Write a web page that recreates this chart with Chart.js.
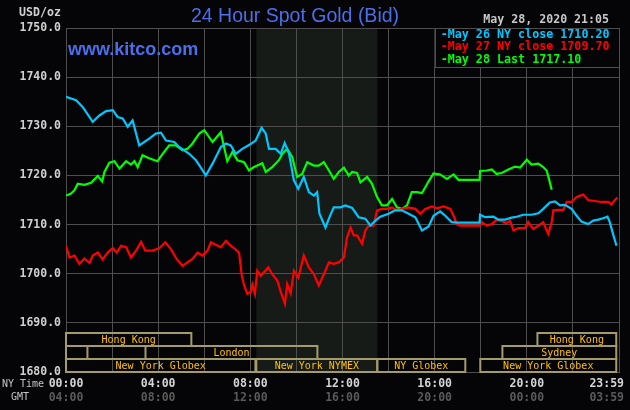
<!DOCTYPE html>
<html>
<head>
<meta charset="utf-8">
<title>24 Hour Spot Gold (Bid)</title>
<script src="https://cdn.jsdelivr.net/npm/chart.js@4.4.0/dist/chart.umd.min.js"></script>
<style>
    html, body { margin: 0; padding: 0; background: #050507; }
    canvas { display: block; }
</style>
</head>
<body>
<canvas id="goldChart" width="630" height="410"></canvas>
<script>
// NY time in hours (0 = 00:00) and bid in USD/oz
const may26Hours = [0, 0.44, 0.73, 1.16, 1.45, 1.74, 2.03, 2.24, 2.46, 2.68, 2.89, 3.18, 3.61, 3.9, 4.12, 4.34, 4.7, 4.91, 5.35, 5.64, 6.07, 6.36, 6.72, 6.94, 7.15, 7.37, 7.65, 7.98, 8.23, 8.49, 8.67, 8.81, 9.1, 9.32, 9.49, 9.68, 9.89, 10.08, 10.32, 10.54, 10.76, 10.9, 11.0, 11.26, 11.41, 11.62, 11.91, 12.13, 12.42, 12.7, 12.99, 13.21, 13.43, 13.64, 14.0, 14.29, 14.58, 14.87, 15.16, 15.45, 15.74, 15.95, 16.24, 16.46, 16.74, 17.0, 17.95, 17.97, 18.19, 18.55, 18.77, 19.06, 19.34, 19.56, 19.85, 20.2, 20.5, 20.71, 21.0, 21.22, 21.44, 21.65, 21.94, 22.16, 22.37, 22.66, 22.88, 23.1, 23.31, 23.5, 23.6, 23.74, 23.89];
const may26Values = [1736.0, 1735.3, 1733.9, 1730.9, 1732.2, 1733.1, 1733.3, 1731.9, 1731.6, 1729.9, 1731.2, 1726.1, 1727.5, 1728.5, 1728.7, 1727.1, 1726.8, 1725.8, 1724.4, 1723.1, 1720.0, 1722.4, 1725.8, 1726.5, 1726.1, 1724.4, 1725.4, 1726.3, 1727.1, 1729.7, 1728.5, 1725.4, 1725.4, 1724.4, 1726.6, 1724.4, 1719.0, 1717.3, 1719.7, 1716.6, 1715.9, 1716.6, 1712.2, 1709.4, 1711.2, 1713.5, 1713.5, 1713.9, 1713.4, 1711.5, 1711.2, 1709.8, 1710.8, 1711.6, 1712.2, 1712.9, 1712.9, 1712.2, 1711.5, 1708.8, 1709.6, 1711.8, 1712.7, 1711.8, 1710.5, 1710.4, 1710.4, 1712.0, 1711.5, 1711.6, 1711.0, 1711.0, 1711.4, 1711.6, 1712.0, 1712.0, 1712.3, 1713.2, 1714.5, 1714.7, 1713.9, 1714.0, 1713.2, 1711.8, 1710.6, 1710.1, 1710.8, 1711.0, 1711.3, 1711.6, 1710.5, 1708.1, 1705.7];

const may27Hours = [0, 0.15, 0.37, 0.58, 0.8, 1.02, 1.16, 1.38, 1.59, 1.81, 2.03, 2.2, 2.39, 2.61, 2.82, 3.04, 3.26, 3.44, 3.76, 4.05, 4.31, 4.55, 4.8, 5.06, 5.27, 5.49, 5.71, 5.92, 6.14, 6.29, 6.5, 6.72, 6.94, 7.15, 7.37, 7.51, 7.63, 7.73, 7.87, 8.02, 8.09, 8.2, 8.3, 8.45, 8.59, 8.78, 8.95, 9.17, 9.32, 9.5, 9.6, 9.75, 9.89, 10.08, 10.32, 10.54, 10.76, 10.97, 11.19, 11.41, 11.62, 11.84, 12.06, 12.2, 12.35, 12.49, 12.63, 12.85, 12.99, 13.14, 13.35, 13.5, 13.71, 13.93, 14.15, 14.36, 14.58, 14.87, 15.16, 15.38, 15.59, 15.88, 16.1, 16.39, 16.68, 16.82, 16.96, 17.11, 17.95, 18.04, 18.26, 18.48, 18.69, 18.91, 19.12, 19.27, 19.42, 19.63, 19.92, 20.06, 20.28, 20.5, 20.71, 20.86, 20.93, 21.08, 21.15, 21.36, 21.58, 21.73, 21.94, 22.16, 22.45, 22.66, 22.95, 23.24, 23.53, 23.67, 23.82, 23.93];
const may27Values = [1705.7, 1703.3, 1703.7, 1702.0, 1703.1, 1702.2, 1703.7, 1704.3, 1702.9, 1704.3, 1705.2, 1704.3, 1705.7, 1705.4, 1703.3, 1704.7, 1706.5, 1704.7, 1704.7, 1705.2, 1706.4, 1705.0, 1703.0, 1701.6, 1702.3, 1703.0, 1704.3, 1703.7, 1704.7, 1706.4, 1705.9, 1705.4, 1706.7, 1705.7, 1704.9, 1704.3, 1699.6, 1697.6, 1695.9, 1696.3, 1697.8, 1695.9, 1700.6, 1699.6, 1700.3, 1701.3, 1699.9, 1698.6, 1696.3, 1693.9, 1697.9, 1696.0, 1700.6, 1699.2, 1703.7, 1701.3, 1699.9, 1697.6, 1699.9, 1702.3, 1702.0, 1702.3, 1703.3, 1707.4, 1709.4, 1707.8, 1707.8, 1706.1, 1708.8, 1709.8, 1709.8, 1712.9, 1713.2, 1713.2, 1713.5, 1712.9, 1713.2, 1713.5, 1713.2, 1712.2, 1713.2, 1713.7, 1713.3, 1713.7, 1713.2, 1711.8, 1710.1, 1709.8, 1709.8, 1710.5, 1709.8, 1710.1, 1711.0, 1710.7, 1710.3, 1710.8, 1708.8, 1709.3, 1709.3, 1710.5, 1709.1, 1709.8, 1710.5, 1708.8, 1708.1, 1710.5, 1712.9, 1713.0, 1713.0, 1714.6, 1714.6, 1715.6, 1716.1, 1715.0, 1714.8, 1714.6, 1714.6, 1714.1, 1715.0, 1715.5];

const may28Hours = [0, 0.22, 0.37, 0.51, 0.8, 1.09, 1.38, 1.57, 1.67, 1.88, 2.1, 2.32, 2.61, 2.82, 2.97, 3.11, 3.32, 3.61, 3.97, 4.26, 4.48, 4.77, 5.06, 5.27, 5.49, 5.78, 6.0, 6.36, 6.72, 6.86, 7.0, 7.22, 7.44, 7.73, 7.94, 8.16, 8.3, 8.52, 8.67, 8.95, 9.24, 9.39, 9.6, 9.82, 10.03, 10.25, 10.47, 10.76, 10.97, 11.19, 11.41, 11.62, 11.84, 12.06, 12.27, 12.42, 12.63, 12.78, 13.07, 13.28, 13.5, 13.71, 13.93, 14.15, 14.36, 14.58, 14.8, 15.01, 15.23, 15.45, 15.74, 15.95, 16.24, 16.53, 16.82, 17.03, 17.95, 17.97, 18.26, 18.48, 18.69, 18.91, 19.2, 19.49, 19.71, 20.0, 20.2, 20.5, 20.71, 20.86, 20.96, 21.08];
const may28Values = [1715.9, 1716.3, 1717.0, 1718.3, 1718.1, 1718.5, 1719.9, 1718.8, 1720.7, 1722.6, 1722.9, 1721.4, 1722.9, 1722.2, 1722.9, 1721.7, 1724.1, 1723.5, 1722.9, 1724.8, 1726.1, 1726.1, 1725.1, 1725.4, 1726.5, 1728.5, 1729.2, 1726.8, 1728.8, 1725.8, 1722.9, 1724.8, 1723.1, 1722.7, 1721.0, 1721.7, 1722.0, 1722.5, 1720.7, 1721.7, 1723.1, 1724.4, 1725.4, 1723.7, 1719.7, 1720.3, 1722.7, 1722.0, 1722.0, 1722.7, 1721.0, 1719.3, 1720.7, 1721.6, 1720.0, 1720.7, 1720.5, 1718.6, 1719.7, 1718.3, 1715.6, 1713.9, 1713.9, 1715.2, 1713.5, 1713.2, 1713.9, 1716.6, 1716.6, 1716.4, 1718.8, 1720.4, 1720.2, 1719.3, 1720.2, 1719.1, 1719.1, 1720.9, 1721.0, 1721.2, 1720.3, 1720.5, 1721.2, 1721.8, 1721.6, 1723.2, 1722.2, 1722.4, 1721.7, 1721.0, 1719.3, 1717.1];

const seriesLabels = ['May 26 NY close', 'May 27 NY close', 'May 28 Last'];
const seriesFinal = [1710.20, 1709.70, 1717.10];
const seriesColors = ['#00c8ff', '#ff0000', '#00ff00'];

const yTicks = [1680, 1690, 1700, 1710, 1720, 1730, 1740, 1750];
const timeTickHours = [0, 4, 8, 12, 16, 20, 23.983];
const nyTimeLabels = ['00:00', '04:00', '08:00', '12:00', '16:00', '20:00', '23:59'];
const gmtLabels = ['04:00', '08:00', '12:00', '16:00', '20:00', '00:00', '03:59'];

// trading sessions along the bottom (row 0 = top row)
const sessionNames = ['Hong Kong', 'Sydney', 'London', 'New York Globex', 'New York NYMEX', 'NY Globex', 'New York Globex', 'Sydney', 'Hong Kong'];
const sessionStart = [0, 0, 3.45, 0, 8.26, 13.51, 17.98, 18.94, 20.46];
const sessionEnd = [5.44, 0.93, 10.91, 8.22, 13.51, 17.33, 23.88, 23.88, 23.88];
const sessionRow = [0, 1, 1, 2, 2, 2, 2, 1, 0];
const pitHours = [8.26, 13.51];

const stampText = 'May 28, 2020 21:05';

const BG = '#050507';
const GRID = '#4e4e4e';
const MONO = '"DejaVu Sans Mono", "Liberation Mono", monospace';
const BLUE = '#4c6fe9';

function toPoints(hours, values) {
    return hours.map((h, i) => ({ x: h, y: values[i] }));
}

const kitcoPlugin = {
    id: 'kitcoDecor',
    beforeDraw(chart) {
        const { ctx, chartArea: a, scales: { x } } = chart;
        ctx.save();
        ctx.fillStyle = BG;
        ctx.fillRect(0, 0, chart.width, chart.height);
        // NYMEX pit hours shading
        const p0 = x.getPixelForValue(pitHours[0]);
        const p1 = x.getPixelForValue(pitHours[1]);
        ctx.fillStyle = '#171b17';
        ctx.fillRect(p0, a.top, p1 - p0, a.bottom - a.top);
        ctx.restore();
    },
    beforeDatasetsDraw(chart) {
        const { ctx, chartArea: a, scales: { x } } = chart;
        const rowH = 13;
        ctx.save();
        ctx.font = '10px ' + MONO;
        ctx.textAlign = 'center';
        ctx.textBaseline = 'middle';
        sessionNames.forEach((name, i) => {
            const x0 = x.getPixelForValue(sessionStart[i]);
            const x1 = x.getPixelForValue(sessionEnd[i]);
            const top = a.bottom - (3 - sessionRow[i]) * rowH;
            ctx.strokeStyle = '#a39c6a';
            ctx.lineWidth = 2;
            ctx.strokeRect(x0, top, x1 - x0, rowH);
            if (ctx.measureText(name).width + 4 < x1 - x0) {
                ctx.fillStyle = '#ffc000';
                ctx.fillText(name, (x0 + x1) / 2, top + rowH / 2 + 1);
            }
        });
        ctx.restore();
    },
    afterDraw(chart) {
        const { ctx, chartArea: a, scales: { x } } = chart;
        ctx.save();

        // legend box, top right
        const lx = x.getPixelForValue(16);
        ctx.fillStyle = BG;
        ctx.fillRect(lx, a.top, a.right - lx, 39);
        ctx.strokeStyle = GRID;
        ctx.lineWidth = 1;
        ctx.strokeRect(Math.round(lx) + 0.5, Math.round(a.top) + 0.5, Math.round(a.right - lx), 39);
        ctx.font = 'bold 11.7px ' + MONO;
        ctx.textAlign = 'left';
        ctx.textBaseline = 'middle';
        seriesLabels.forEach((label, i) => {
            ctx.fillStyle = seriesColors[i];
            ctx.fillText('-' + label + ' ' + seriesFinal[i].toFixed(2), lx + 6, a.top + 6.5 + i * 12.5);
        });

        // title and site name
        ctx.fillStyle = BLUE;
        ctx.textAlign = 'center';
        ctx.textBaseline = 'alphabetic';
        ctx.font = '19.5px "Liberation Sans", Arial, sans-serif';
        ctx.fillText('24 Hour Spot Gold (Bid)', 295, 22);
        ctx.textAlign = 'left';
        ctx.font = 'bold 18px "Liberation Sans", Arial, sans-serif';
        ctx.fillText('www.kitco.com', 68, 55);

        // time stamp and unit
        ctx.font = 'bold 11.6px ' + MONO;
        ctx.fillStyle = '#c8c8c8';
        ctx.textAlign = 'right';
        ctx.textBaseline = 'middle';
        ctx.fillText(stampText, 609, 20);
        ctx.fillStyle = '#d0d0d0';
        ctx.fillText('USD/oz', 61, 13);

        // time axis, NY and GMT
        ctx.font = '10px ' + MONO;
        ctx.textAlign = 'left';
        ctx.fillStyle = '#c4c4c4';
        ctx.fillText('NY Time', 2, 384);
        ctx.fillText('GMT', 11, 397);
        ctx.font = 'bold 11.5px ' + MONO;
        ctx.textAlign = 'center';
        timeTickHours.forEach((h, i) => {
            const w = ctx.measureText(nyTimeLabels[i]).width;
            const cx = Math.min(x.getPixelForValue(h), chart.width - 6 - w / 2);
            ctx.fillStyle = '#d4d4d4';
            ctx.fillText(nyTimeLabels[i], cx, 384);
            ctx.fillStyle = '#5a5a5a';
            ctx.fillText(gmtLabels[i], cx, 398);
        });
        ctx.restore();
    }
};

const hoursList = [may26Hours, may27Hours, may28Hours];
const valuesList = [may26Values, may27Values, may28Values];

new Chart(document.getElementById('goldChart'), {
    type: 'line',
    data: {
        datasets: seriesLabels.map((label, i) => ({
            label: label,
            data: toPoints(hoursList[i], valuesList[i]),
            borderColor: seriesColors[i],
            backgroundColor: seriesColors[i],
            borderWidth: 2.2,
            pointRadius: 0,
            tension: 0,
            fill: false
        }))
    },
    options: {
        responsive: false,
        animation: false,
        devicePixelRatio: 1,
        layout: { padding: { top: 28, right: 11, left: 0, bottom: 0 } },
        plugins: {
            legend: { display: false },
            title: { display: false },
            tooltip: { enabled: false }
        },
        scales: {
            x: {
                type: 'linear',
                min: 0,
                max: 24,
                afterFit: s => { s.height = 38; },
                ticks: { display: false, stepSize: 2 },
                grid: { color: GRID, lineWidth: 1, drawTicks: false },
                border: { color: GRID }
            },
            y: {
                min: yTicks[0],
                max: yTicks[yTicks.length - 1],
                afterFit: s => { s.width = 66; },
                afterBuildTicks: s => { s.ticks = yTicks.map(v => ({ value: v })); },
                ticks: {
                    padding: 5,
                    color: '#d0d0d0',
                    font: { family: MONO, size: 11.5, weight: 'bold' },
                    callback: v => v.toFixed(1)
                },
                grid: { color: GRID, lineWidth: 1, drawTicks: false },
                border: { color: GRID }
            }
        }
    },
    plugins: [kitcoPlugin]
});
</script>
</body>
</html>
